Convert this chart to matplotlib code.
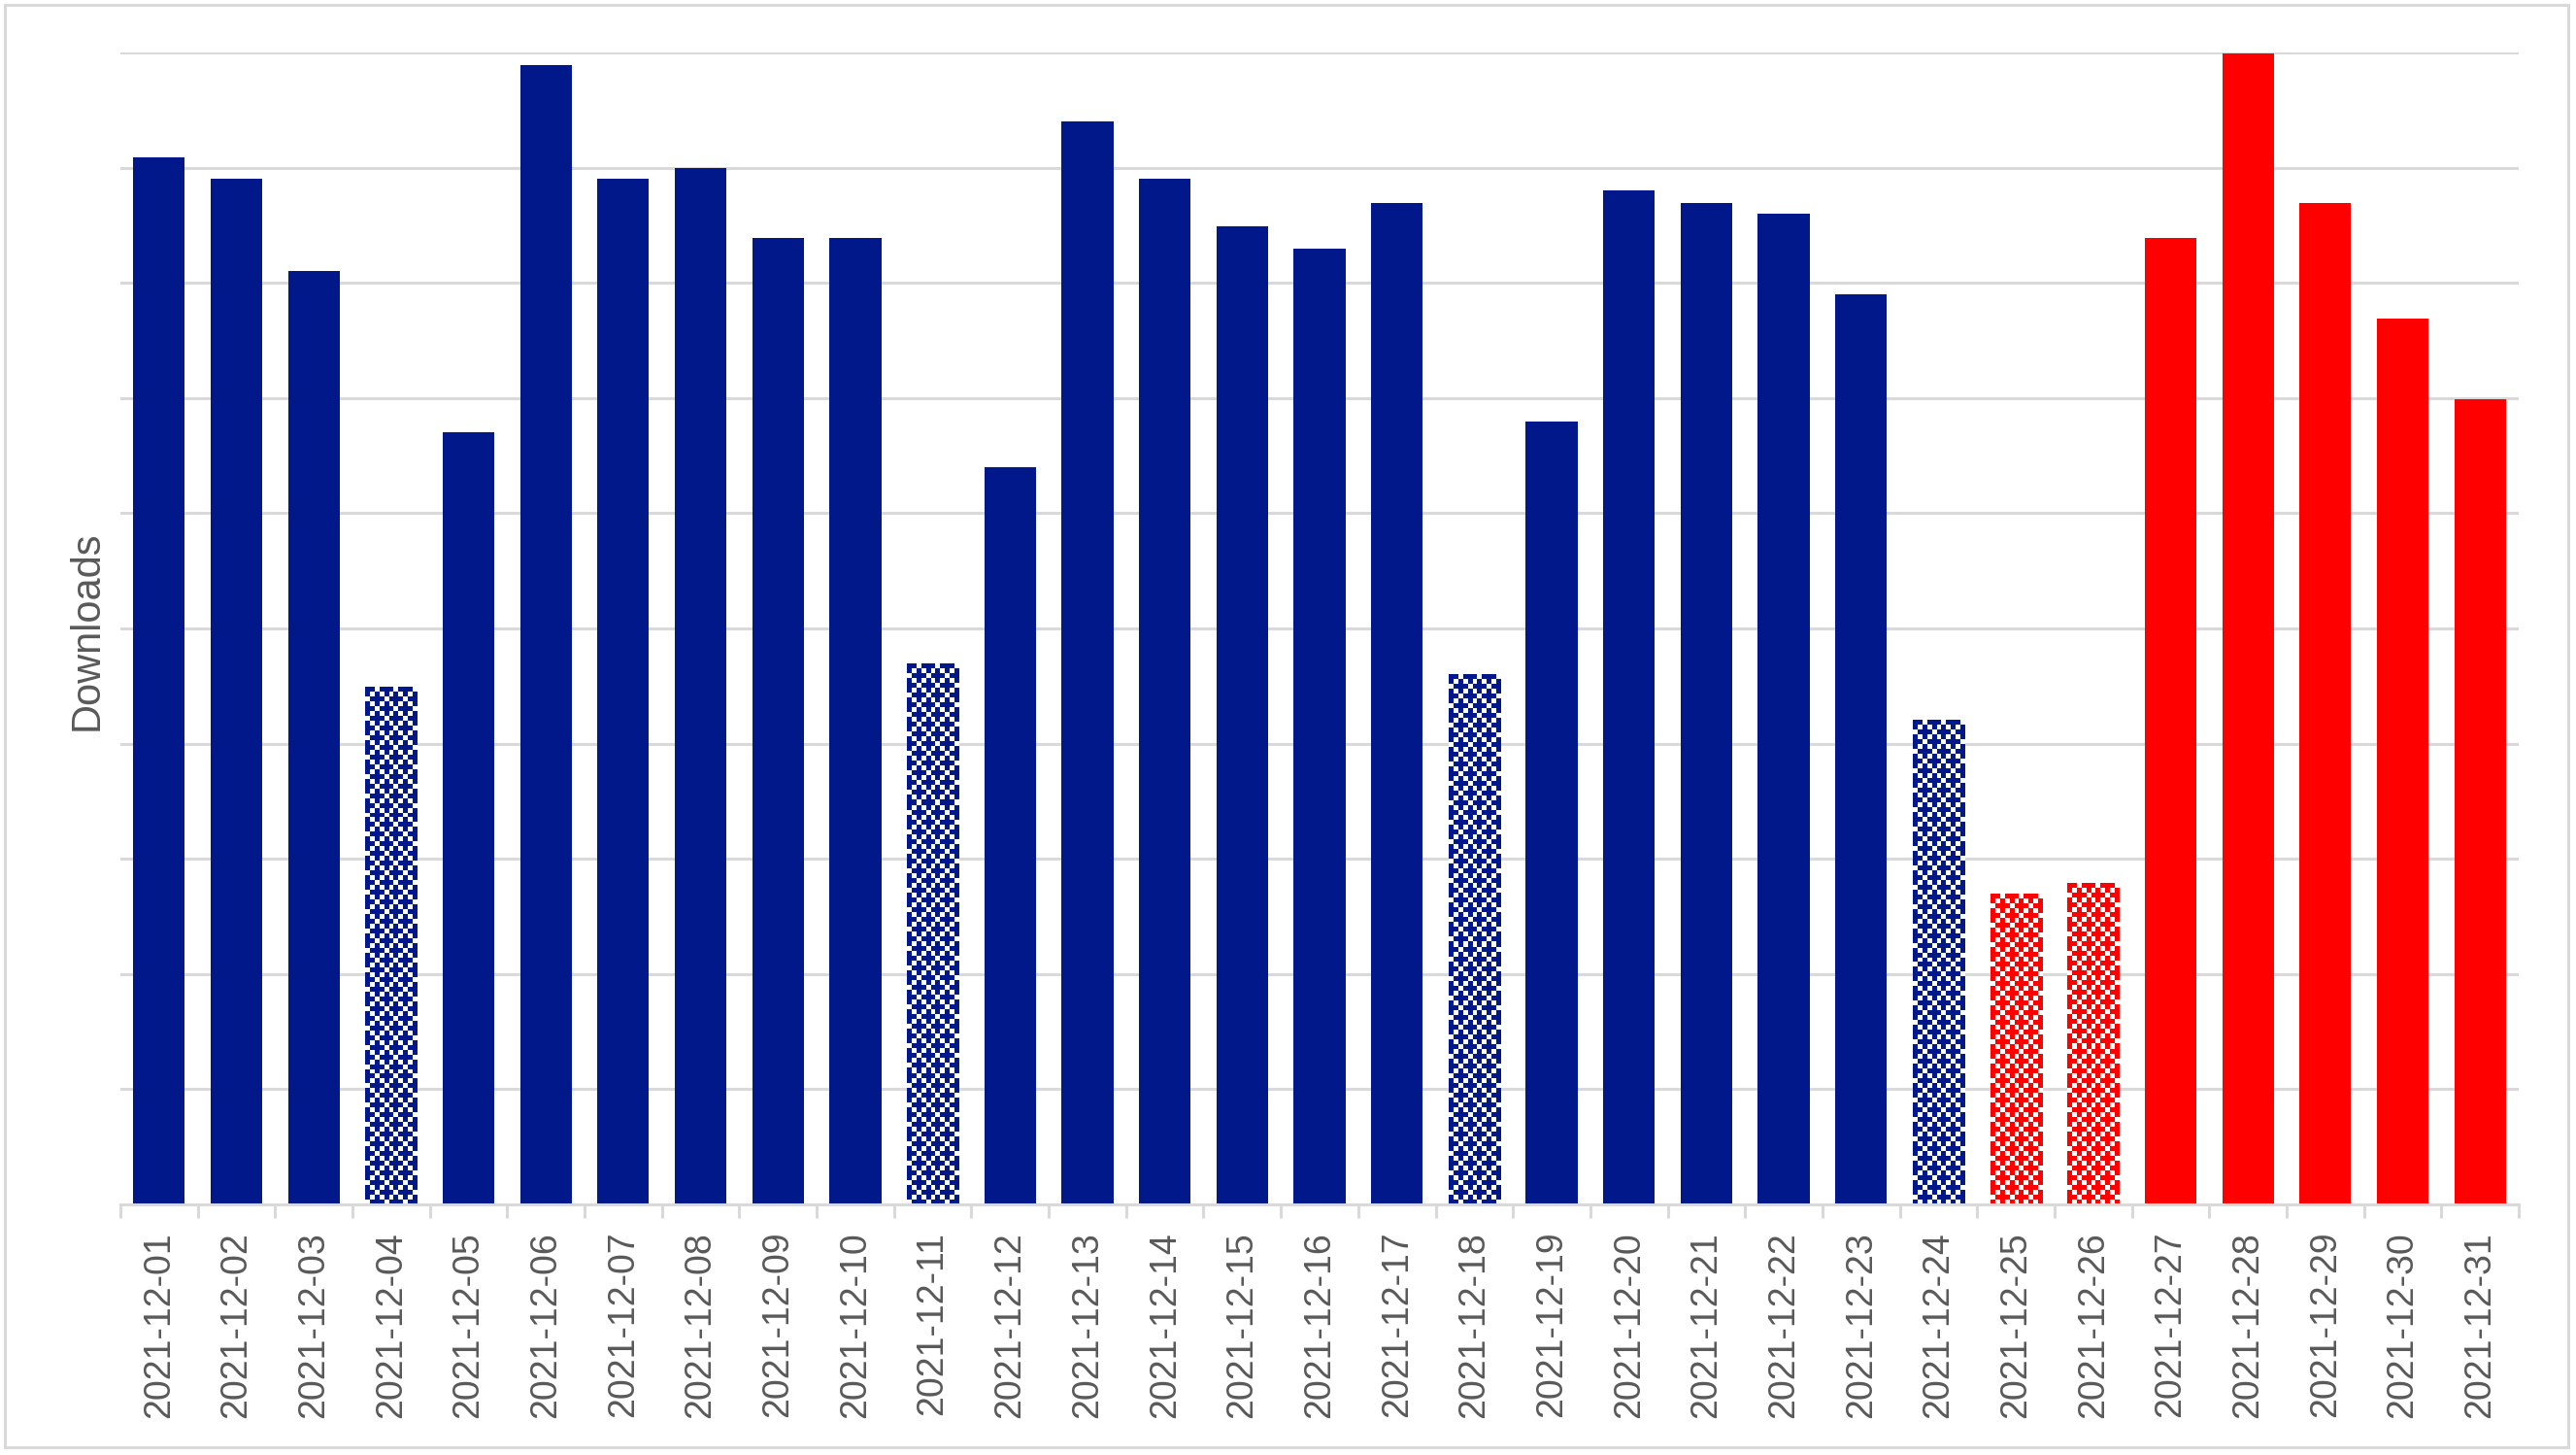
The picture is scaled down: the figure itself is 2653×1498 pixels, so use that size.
import numpy as np
import matplotlib.pyplot as plt
from matplotlib.patches import Rectangle

# daily downloads, December 2021 (gridline step = 100)
days = ["2021-12-%02d" % d for d in range(1, 32)]
downloads = [909, 890, 810, 449, 670, 989, 890, 900, 839, 839,
             469, 640, 940, 890, 849, 830, 869, 460, 680, 880,
             869, 860, 790, 420, 269, 279, 839, 999, 869, 769, 699]
# weekend / holiday days drawn with a pattern
patterned = ["2021-12-04", "2021-12-11", "2021-12-18", "2021-12-24",
             "2021-12-25", "2021-12-26"]
# end of year period drawn in red
red_days = ["2021-12-25", "2021-12-26", "2021-12-27", "2021-12-28",
            "2021-12-29", "2021-12-30", "2021-12-31"]

BLUE = "#00188A"
RED = "#FF0000"
GREY = "#D9D9D9"
TEXT = "#595959"

plt.rcParams['font.family'] = ['Liberation Sans', 'DejaVu Sans']

W, H, DPI = 2653, 1498, 100
fig = plt.figure(figsize=(W / DPI, H / DPI), dpi=DPI)
ax = fig.add_axes([124 / W, 1 - 1240 / H, (2594 - 124) / W, (1240 - 54) / H])

x = np.arange(len(days))
colors = [RED if d in red_days else BLUE for d in days]
width = 0.667
bars = ax.bar(x, downloads, width=width, color=colors, zorder=2)

ax.set_xlim(-0.5, len(days) - 0.5)
ax.set_ylim(0, 1000)
ax.set_yticks(np.arange(0, 1001, 100))

# pattern tile: little crosses on white
tile = np.array([[1, 1, 0, 1],
                 [1, 0, 1, 0],
                 [0, 1, 1, 1],
                 [1, 0, 1, 0]])
cell = 5.0  # pixels per pattern cell
fig.canvas.draw()
for b, d, c in zip(bars, days, colors):
    if d not in patterned:
        continue
    b.set_facecolor("white")
    x0, y0 = b.get_x(), 0
    x1, y1 = b.get_x() + b.get_width(), b.get_height()
    p0 = ax.transData.transform((x0, y0))
    p1 = ax.transData.transform((x1, y1))
    nx = int(round((p1[0] - p0[0]) / cell))
    ny = int(round((p1[1] - p0[1]) / cell))
    reps = np.tile(tile, (ny // 4 + 2, nx // 4 + 2))[:ny, :nx]
    rgb = np.array(plt.matplotlib.colors.to_rgb(c))
    img = np.ones((ny, nx, 3))
    img[reps == 1] = rgb
    ax.imshow(img, extent=(x0, x1, y0, y1), aspect='auto',
              interpolation='nearest', origin='upper', zorder=3)

ax.set_xlim(-0.5, len(days) - 0.5)
ax.set_ylim(0, 1000)

ax.set_xticks(x)
ax.set_xticklabels(days, rotation=90, fontsize=27, color=TEXT)
ax.set_xticks(np.arange(-0.5, len(days), 1), minor=True)
ax.tick_params(axis='x', which='major', length=0, pad=20)
ax.tick_params(axis='x', which='minor', length=10, width=2.2, color=GREY)
ax.tick_params(axis='y', length=0, labelleft=False)

ax.yaxis.grid(True, color=GREY, linewidth=2.2)
ax.set_axisbelow(True)
for s in ['top', 'right', 'left']:
    ax.spines[s].set_visible(False)
ax.spines['bottom'].set_color(GREY)
ax.spines['bottom'].set_linewidth(2.2)
ax.spines['bottom'].set_zorder(4)

fig.text(90 / W, 1 - 649 / H, "Downloads", rotation=90, ha='center',
         va='center', fontsize=30, color=TEXT)

# light grey frame around the whole chart
fig.patches.append(Rectangle((5 / W, 8 / H), 2640 / W, 1485 / H,
                             transform=fig.transFigure, fill=False,
                             edgecolor=GREY, linewidth=2.2))

fig.savefig("out.png", dpi=DPI)
